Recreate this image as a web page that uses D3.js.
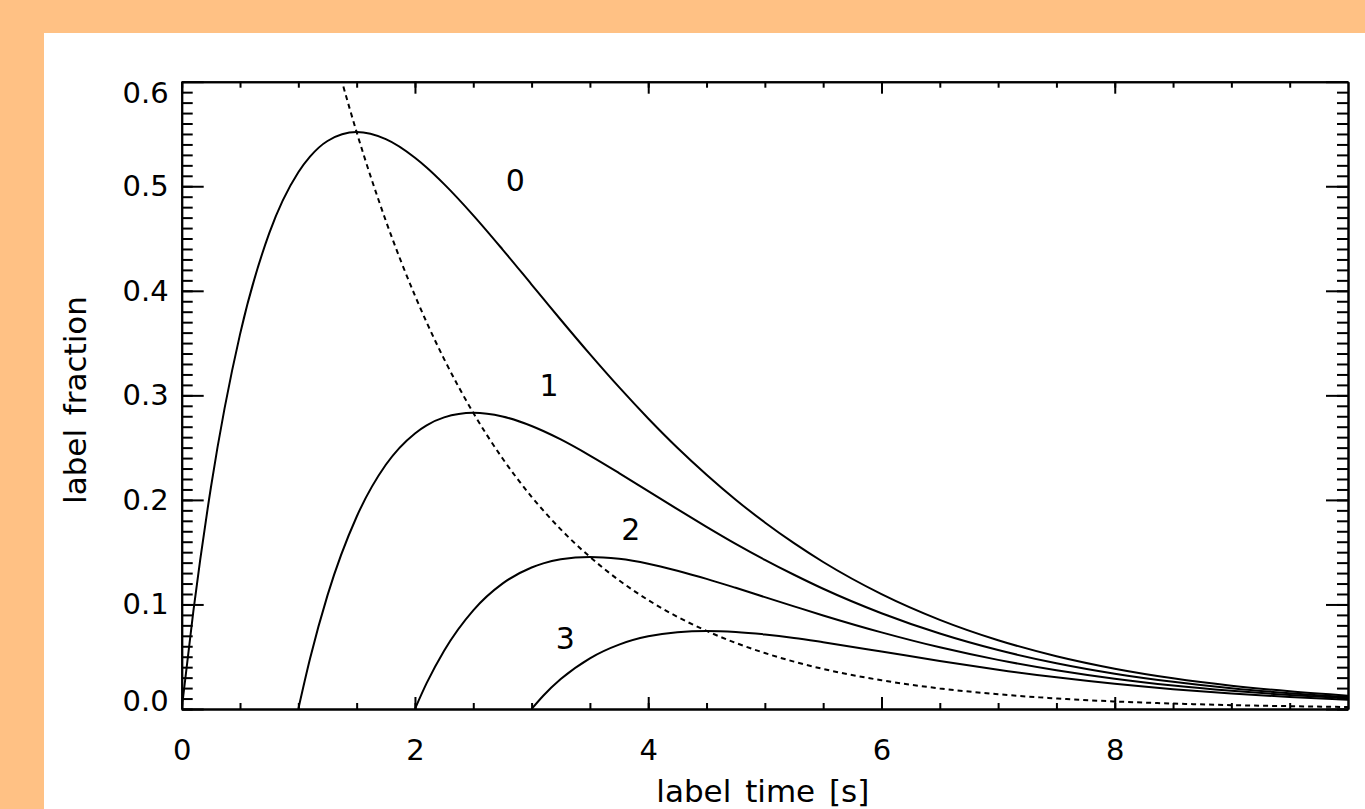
<!DOCTYPE html>
<html>
<head>
<meta charset="utf-8">
<script src="https://cdn.jsdelivr.net/npm/d3@7"></script>
<style>
  body { margin: 0; background: #ffc184; overflow: hidden; }
  svg text { font-family: "DejaVu Sans", sans-serif; fill: #000; }
</style>
</head>
<body>
<svg id="chart" width="1365" height="809"></svg>
<script>
// Sample times (s)
var times = [0, 0.1, 0.25, 0.5, 0.75, 1, 1.1, 1.25, 1.5, 1.75, 2, 2.1, 2.25, 2.5, 2.75,
  3, 3.1, 3.25, 3.5, 3.75, 4, 4.25, 4.5, 4.75, 5, 5.25, 5.5, 6, 6.5, 7, 7.5, 8, 8.5, 9, 9.5, 10];

// Label fraction per curve (null = curve not started yet)
var curve0 = [0, 0.0936, 0.2116, 0.3583, 0.4549, 0.5134, 0.5283, 0.5433, 0.5518, 0.5450, 0.5272, 0.5179, 0.5020, 0.4722, 0.4397,
  0.4060, 0.3925, 0.3723, 0.3394, 0.3078, 0.2779, 0.2499, 0.2241, 0.2002, 0.1784, 0.1586, 0.1406, 0.1099, 0.0853, 0.0658, 0.0505, 0.0386, 0.0294, 0.0223, 0.0169, 0.0127];
var curve1 = [null, null, null, null, null, 0, 0.0480, 0.1087, 0.1839, 0.2336, 0.2636, 0.2713, 0.2789, 0.2833, 0.2798,
  0.2707, 0.2659, 0.2578, 0.2424, 0.2257, 0.2084, 0.1911, 0.1743, 0.1580, 0.1427, 0.1284, 0.1150, 0.0916, 0.0722, 0.0564, 0.0438, 0.0338, 0.0260, 0.0198, 0.0151, 0.0115];
var curve2 = [null, null, null, null, null, null, null, null, null, null, 0, 0.0247, 0.0558, 0.0944, 0.1199,
  0.1353, 0.1393, 0.1432, 0.1455, 0.1436, 0.1390, 0.1323, 0.1245, 0.1159, 0.1070, 0.0982, 0.0895, 0.0733, 0.0590, 0.0470, 0.0371, 0.0290, 0.0225, 0.0174, 0.0133, 0.0102];
var curve3 = [null, null, null, null, null, null, null, null, null, null, null, null, null, null, null,
  0, 0.0127, 0.0286, 0.0485, 0.0616, 0.0695, 0.0735, 0.0747, 0.0737, 0.0713, 0.0680, 0.0639, 0.0550, 0.0459, 0.0376, 0.0303, 0.0241, 0.0190, 0.0149, 0.0115, 0.0089];
// dashed envelope through the peaks
var envelope = [null, null, null, null, null, null, 0.7205, 0.6519, 0.5518, 0.4671, 0.3954, 0.3699, 0.3347, 0.2833, 0.2398,
  0.2030, 0.1899, 0.1718, 0.1455, 0.1231, 0.1042, 0.0882, 0.0747, 0.0632, 0.0535, 0.0453, 0.0383, 0.0275, 0.0197, 0.0141, 0.0101, 0.0072, 0.0052, 0.0037, 0.0027, 0.0019];

var curves = [curve0, curve1, curve2, curve3];

// Curve labels
var labelText = ["0", "1", "2", "3"];
var labelT = [2.86, 3.15, 3.85, 3.29];
var labelV = [0.495, 0.299, 0.1615, 0.0573];

// Ticks
var xMajor = [0, 2, 4, 6, 8];
var xMinor = d3.range(0, 10, 0.5);
var yMajor = [0, 0.1, 0.2, 0.3, 0.4, 0.5, 0.6];
var yMinor = d3.range(0, 0.6, 0.01);

var svg = d3.select("#chart");

// White panel on the orange page
svg.append("rect")
  .attr("x", 44).attr("y", 33)
  .attr("width", 1321).attr("height", 776)
  .attr("fill", "#fff");

var x = d3.scaleLinear().domain([0, 10]).range([181.7, 1348]);
var y = d3.scaleLinear().domain([0, 0.6]).range([709, 81.7]);

svg.append("clipPath").attr("id", "plotclip")
  .append("rect")
  .attr("x", x(0)).attr("y", y(0.6))
  .attr("width", x(10) - x(0)).attr("height", y(0) - y(0.6));

var line = d3.line()
  .defined(d => d[1] != null)
  .x(d => x(d[0]))
  .y(d => y(d[1]))
  .curve(d3.curveMonotoneX);

var g = svg.append("g").attr("clip-path", "url(#plotclip)");

// Solid curves
g.selectAll("path.curve")
  .data(curves)
  .enter()
  .append("path")
  .attr("class", "curve")
  .attr("d", c => line(times.map((t, i) => [t, c[i]])))
  .attr("fill", "none")
  .attr("stroke", "#000")
  .attr("stroke-width", 2);

// Dashed envelope
g.append("path")
  .attr("d", line(times.map((t, i) => [t, envelope[i]])))
  .attr("fill", "none")
  .attr("stroke", "#000")
  .attr("stroke-width", 2)
  .attr("stroke-dasharray", "5,4");

// Axes (ticks point inward, IDL style)
function styleAxis(sel) {
  sel.selectAll("path.domain").attr("stroke", "#000").attr("stroke-width", 2);
  sel.selectAll(".tick line").attr("stroke", "#000").attr("stroke-width", 2);
  sel.selectAll(".tick text").attr("font-size", 29).attr("font-family", "DejaVu Sans, sans-serif");
}

// bottom
svg.append("g").attr("transform", `translate(0,${y(0)})`)
  .call(d3.axisBottom(x).tickValues(xMinor).tickSize(-6).tickSizeOuter(0).tickFormat(""))
  .call(styleAxis);
svg.append("g").attr("transform", `translate(0,${y(0)})`)
  .call(d3.axisBottom(x).tickValues(xMajor).tickSize(-12).tickSizeOuter(0).tickPadding(30).tickFormat(d3.format("d")))
  .call(styleAxis);

// top
svg.append("g").attr("transform", `translate(0,${y(0.6)})`)
  .call(d3.axisTop(x).tickValues(xMinor).tickSize(-6).tickSizeOuter(0).tickFormat(""))
  .call(styleAxis);
svg.append("g").attr("transform", `translate(0,${y(0.6)})`)
  .call(d3.axisTop(x).tickValues(xMajor).tickSize(-12).tickSizeOuter(0).tickFormat(""))
  .call(styleAxis);

// left
svg.append("g").attr("transform", `translate(${x(0)},0)`)
  .call(d3.axisLeft(y).tickValues(yMinor).tickSize(-11).tickSizeOuter(0).tickFormat(""))
  .call(styleAxis);
var leftMajor = svg.append("g").attr("transform", `translate(${x(0)},0)`)
  .call(d3.axisLeft(y).tickValues(yMajor).tickSize(-22).tickSizeOuter(0).tickPadding(13).tickFormat(d3.format(".1f")))
  .call(styleAxis);
// keep end labels inside the frame
leftMajor.selectAll(".tick text")
  .attr("y", d => {
    var c = Math.min(Math.max(y(d), y(0.6) + 12), y(0) - 8);
    return c - y(d);
  });

// right
svg.append("g").attr("transform", `translate(${x(10)},0)`)
  .call(d3.axisRight(y).tickValues(yMinor).tickSize(-11).tickSizeOuter(0).tickFormat(""))
  .call(styleAxis);
svg.append("g").attr("transform", `translate(${x(10)},0)`)
  .call(d3.axisRight(y).tickValues(yMajor).tickSize(-22).tickSizeOuter(0).tickFormat(""))
  .call(styleAxis);

// Curve labels
svg.selectAll("text.clabel")
  .data(labelText)
  .enter()
  .append("text")
  .attr("class", "clabel")
  .attr("x", (d, i) => x(labelT[i]))
  .attr("y", (d, i) => y(labelV[i]))
  .attr("text-anchor", "middle")
  .attr("font-size", 30)
  .text(d => d);

// Axis titles
svg.append("text")
  .attr("x", (x(0) + x(10)) / 2 - 2)
  .attr("y", 802)
  .attr("text-anchor", "middle")
  .attr("font-size", 31)
  .attr("word-spacing", 4)
  .text("label time [s]");

svg.append("text")
  .attr("transform", "translate(86,400) rotate(-90)")
  .attr("text-anchor", "middle")
  .attr("font-size", 31)
  .attr("word-spacing", 4)
  .text("label fraction");
</script>
</body>
</html>
